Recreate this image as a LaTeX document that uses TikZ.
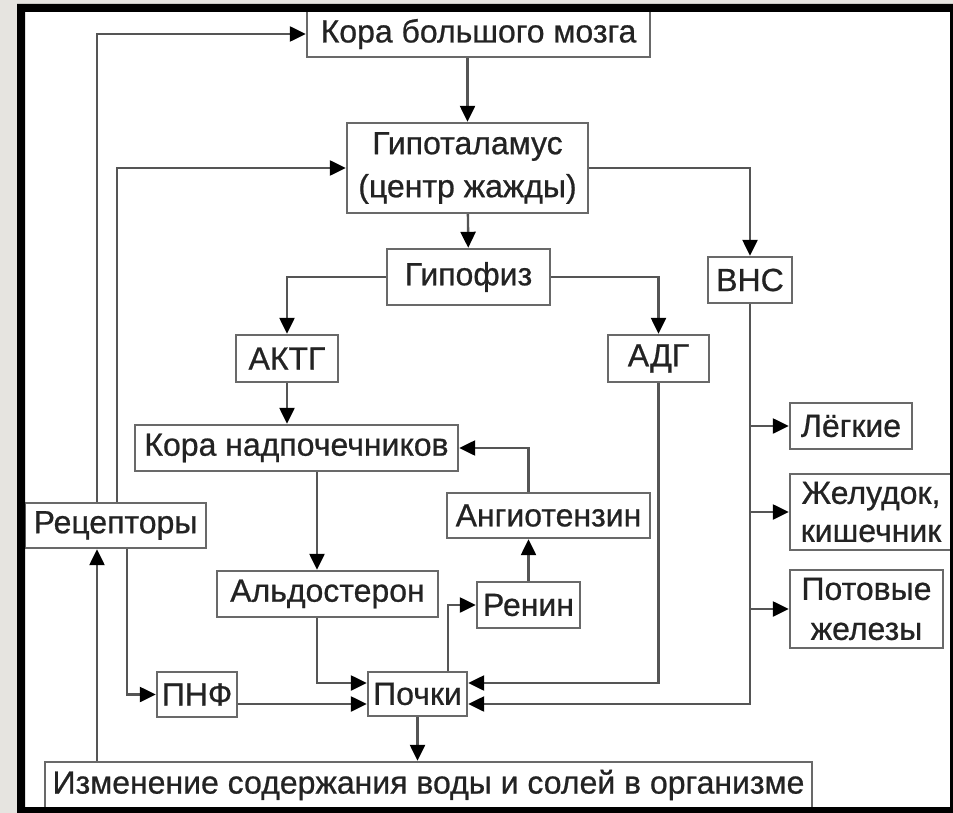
\documentclass[tikz,border=0pt]{standalone}
\usepackage{fontspec}
\setmainfont{Liberation Sans}[FakeBold=0.7]
\usetikzlibrary{calc}
\usetikzlibrary{arrows.meta}

\definecolor{bggray}{RGB}{230,228,224}
\definecolor{linegray}{RGB}{85,85,85}
\definecolor{boxgray}{RGB}{105,105,105}
\definecolor{txtgray}{RGB}{35,35,35}

\tikzset{
  blk/.style={draw=boxgray, line width=1.2pt, inner sep=0pt, align=center,
    text=txtgray, font=\fontsize{16}{20}\selectfont},
}

\begin{document}
\begin{tikzpicture}[x=0.5pt, y=-0.5pt, line width=1.2pt, >={Triangle[length=8pt,width=7.5pt,color=black]}]
\useasboundingbox (0,0) rectangle (953,813);
\fill[bggray] (0,0) rectangle (953,813);
\fill[white] (25,12) rectangle (950,807);

% boxes
\node[blk, minimum width=171.5pt, minimum height=23pt] (kora) at (478.5,34) {Кора большого мозга};
\node[blk, minimum width=120.5pt, minimum height=45pt, font=\fontsize{16}{21.5}\selectfont] (hypo) at (467.5,168) {Гипоталамус\\(центр жажды)};
\node[blk, minimum width=81.5pt, minimum height=28pt] (gipofiz) at (468.5,277) {Гипофиз};
\node[blk, minimum width=51pt, minimum height=23.5pt] (aktg) at (287,358.5) {АКТГ};
\node[blk, minimum width=50.5pt, minimum height=23.5pt] (adg) at (658.5,358.5) {АДГ};
\node[blk, minimum width=42pt, minimum height=23pt] (vns) at (750,280) {ВНС};
\node[blk, minimum width=161.5pt, minimum height=23pt] (nadp) at (296.5,448) {Кора надпочечников};
\node[blk, minimum width=90.5pt, minimum height=22.5pt] (rec) at (115.5,525.5) {Рецепторы};
\node[blk, minimum width=110.5pt, minimum height=23pt] (aldo) at (327.5,594) {Альдостерон};
\node[blk, minimum width=101.5pt, minimum height=22.5pt] (angio) at (548.5,515.5) {Ангиотензин};
\node[blk, minimum width=51.5pt, minimum height=23pt] (renin) at (528.5,605) {Ренин};
\node[blk, minimum width=49.5pt, minimum height=22pt] (pochki) at (417.5,694) {Почки};
\node[blk, minimum width=40pt, minimum height=22.5pt] (pnf) at (197,694.5) {ПНФ};
\node[blk, minimum width=61pt, minimum height=23pt] (lungs) at (851,426) {Лёгкие};
\node[blk, minimum width=81pt, minimum height=38pt, font=\fontsize{16}{19}\selectfont] (stomach) at (871,512) {Желудок,\\кишечник};
\node[blk, minimum width=76.5pt, minimum height=39pt] (sweat) at (866.5,609) {Потовые\\железы};
\node[blk, minimum width=383.5pt, minimum height=23pt] (change) at (428.5,785) {Изменение содержания воды и солей в организме};

\coordinate (l1) at (97,0);
\coordinate (l2) at (117,0);
\coordinate (l3) at (127,0);
\coordinate (l4) at (317,0);
\coordinate (l5) at (448,0);
\coordinate (k1) at (0,683);
\coordinate (k2) at (0,704);

% connectors
\begin{scope}[draw=linegray, ->]
\draw (kora.south -| hypo) -- (hypo.north);
\draw (hypo) -- (gipofiz);
\draw (gipofiz.west) -| (aktg.north);
\draw (gipofiz.east) -| (adg.north);
\draw (hypo.east) -| (vns.north);
\draw (aktg.south) -- (aktg.south |- nadp.north);
\draw (nadp.south -| l4) -- (aldo.north -| l4);
\draw (aldo.south -| l4) |- (pochki.west |- k1);
\draw (pnf.east |- k2) -- (pochki.west |- k2);
\draw (adg.south) |- (pochki.east |- k1);
\draw (vns.south) |- (pochki.east |- k2);
\draw (pochki.north -| l5) |- (renin.west);
\draw (renin.north) -- (renin.north |- angio.south);
\draw (angio.north -| renin) |- (nadp.east);
\draw (pochki.south) -- (pochki.south |- change.north);
\draw (rec.north -| l1) |- (kora.west);
\draw (rec.north -| l2) |- (hypo.west);
\draw (change.north -| l1) -- (rec.south -| l1);
\draw (rec.south -| l3) |- (pnf.west);
\foreach \t in {lungs,stomach,sweat} {
  \draw (vns.south |- \t.west) -- (\t.west);
}
\end{scope}

% frame
\fill[black, even odd rule] (17,4) rectangle (953,813) (25,12) rectangle (950,807);
\end{tikzpicture}
\end{document}
